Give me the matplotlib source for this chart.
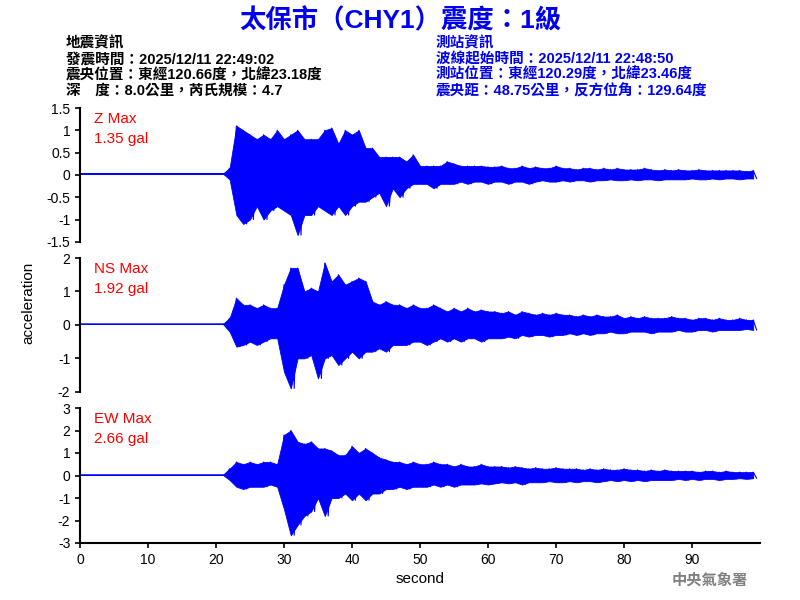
import matplotlib
matplotlib.use("Agg")
import matplotlib.pyplot as plt
import numpy as np

plt.rcParams['font.family'] = ['Liberation Sans', 'Noto Sans CJK TC', 'DejaVu Sans']

seconds = list(range(100))
pre = [0.03] * 22
z_max = pre + [0.15, 1.1, 1.0, 0.9, 0.8, 0.9, 0.8, 1.0, 0.8, 0.9, 1.0, 0.8, 0.8, 0.8, 1.0, 1.05, 0.7, 1.0, 0.9, 1.0,
               0.6, 0.6, 0.4, 0.4, 0.4, 0.4, 0.3, 0.45, 0.2, 0.2, 0.2, 0.2, 0.3, 0.25, 0.2, 0.2, 0.2, 0.2, 0.18, 0.18,
               0.2, 0.15, 0.15, 0.2, 0.15, 0.18, 0.15, 0.15, 0.2, 0.15, 0.15, 0.12, 0.15, 0.15, 0.12, 0.15, 0.12, 0.15, 0.12, 0.12,
               0.12, 0.15, 0.12, 0.1, 0.12, 0.1, 0.12, 0.1, 0.1, 0.12, 0.1, 0.1, 0.1, 0.1, 0.1, 0.1, 0.08, 0.1]
z_min = pre + [-0.1, -0.9, -1.1, -1.0, -0.7, -1.0, -0.8, -0.7, -0.8, -0.9, -1.35, -0.9, -0.9, -0.7, -0.8, -0.9, -0.7, -0.9, -0.7, -0.6,
               -0.6, -0.5, -0.4, -0.7, -0.3, -0.5, -0.3, -0.2, -0.2, -0.2, -0.3, -0.2, -0.2, -0.2, -0.15, -0.2, -0.15, -0.15, -0.2, -0.15,
               -0.15, -0.2, -0.15, -0.15, -0.2, -0.15, -0.12, -0.15, -0.15, -0.12, -0.15, -0.12, -0.12, -0.15, -0.12, -0.12, -0.1, -0.12, -0.12, -0.1,
               -0.12, -0.1, -0.1, -0.12, -0.1, -0.1, -0.1, -0.1, -0.08, -0.1, -0.1, -0.08, -0.1, -0.08, -0.08, -0.1, -0.08, -0.08]
ns_max = pre + [0.2, 0.8, 0.6, 0.6, 0.5, 0.6, 0.5, 0.5, 1.2, 1.7, 1.7, 1.0, 1.1, 1.0, 1.85, 1.3, 1.5, 1.2, 1.3, 1.4,
                1.3, 0.7, 0.6, 0.7, 0.6, 0.6, 0.5, 0.6, 0.5, 0.5, 0.6, 0.5, 0.4, 0.5, 0.4, 0.5, 0.4, 0.45, 0.4, 0.4,
                0.35, 0.4, 0.3, 0.4, 0.35, 0.3, 0.35, 0.3, 0.35, 0.3, 0.3, 0.25, 0.3, 0.25, 0.3, 0.25, 0.25, 0.3, 0.2, 0.25,
                0.2, 0.25, 0.2, 0.2, 0.2, 0.25, 0.2, 0.2, 0.15, 0.2, 0.2, 0.15, 0.2, 0.15, 0.15, 0.2, 0.15, 0.15]
ns_min = pre + [-0.2, -0.65, -0.6, -0.5, -0.6, -0.5, -0.4, -0.4, -1.4, -1.9, -1.0, -1.0, -0.9, -1.6, -1.0, -0.9, -1.2, -1.0, -0.8, -1.0,
                -0.8, -0.8, -0.7, -0.8, -0.6, -0.6, -0.6, -0.5, -0.5, -0.6, -0.5, -0.4, -0.5, -0.4, -0.5, -0.4, -0.4, -0.5, -0.4, -0.4,
                -0.4, -0.35, -0.4, -0.3, -0.35, -0.3, -0.3, -0.35, -0.3, -0.3, -0.25, -0.3, -0.25, -0.3, -0.25, -0.25, -0.2, -0.25, -0.25, -0.2,
                -0.2, -0.2, -0.25, -0.2, -0.2, -0.2, -0.15, -0.2, -0.2, -0.15, -0.15, -0.2, -0.15, -0.15, -0.15, -0.15, -0.12, -0.15]
ew_max = pre + [0.3, 0.6, 0.5, 0.6, 0.5, 0.6, 0.6, 0.5, 1.8, 2.0, 1.5, 1.4, 1.5, 1.2, 1.2, 1.1, 0.9, 0.9, 1.3, 1.0,
                1.2, 1.0, 0.8, 0.7, 0.6, 0.6, 0.5, 0.6, 0.5, 0.5, 0.6, 0.5, 0.5, 0.4, 0.5, 0.4, 0.4, 0.5, 0.4, 0.4,
                0.4, 0.35, 0.4, 0.35, 0.3, 0.35, 0.3, 0.3, 0.35, 0.3, 0.3, 0.3, 0.25, 0.3, 0.25, 0.3, 0.25, 0.25, 0.3, 0.25,
                0.25, 0.2, 0.25, 0.2, 0.25, 0.2, 0.2, 0.2, 0.2, 0.15, 0.2, 0.2, 0.15, 0.2, 0.15, 0.15, 0.15, 0.15]
ew_min = pre + [-0.2, -0.5, -0.6, -0.5, -0.5, -0.5, -0.4, -0.5, -1.5, -2.66, -2.2, -1.8, -1.6, -1.0, -1.8, -1.0, -1.0, -0.8, -1.1, -0.8,
                -1.1, -0.8, -0.8, -0.6, -0.6, -0.5, -0.6, -0.5, -0.5, -0.5, -0.4, -0.5, -0.4, -0.5, -0.4, -0.4, -0.4, -0.35, -0.4, -0.35,
                -0.3, -0.35, -0.3, -0.4, -0.3, -0.3, -0.3, -0.25, -0.3, -0.3, -0.25, -0.3, -0.25, -0.25, -0.3, -0.25, -0.2, -0.25, -0.2, -0.25,
                -0.2, -0.25, -0.2, -0.2, -0.2, -0.2, -0.15, -0.2, -0.15, -0.2, -0.15, -0.15, -0.2, -0.15, -0.15, -0.12, -0.15, -0.12]

components = ["Z", "NS", "EW"]
peaks = ["1.35", "1.92", "2.66"]
limits = [1.5, 2, 3]
tick_sets = [[-1.5, -1, -0.5, 0, 0.5, 1, 1.5], [-2, -1, 0, 1, 2], [-3, -2, -1, 0, 1, 2, 3]]
series = [(z_max, z_min), (ns_max, ns_min), (ew_max, ew_min)]
x_ticks = list(range(0, 100, 10))

fig = plt.figure(figsize=(8, 6), dpi=100)
boxes = [(0.82, 0.597), (0.57, 0.347), (0.32, 0.095)]
for i, (top, bot) in enumerate(boxes):
    ax = fig.add_axes([0.1, bot, 0.85, top - bot])
    mx, mn = series[i]
    ax.fill_between(seconds, mn, mx, color='blue', lw=0.6, edgecolor='blue')
    t = []
    v = []
    for s, a, b in zip(seconds, mx, mn):
        t += [s, s + 0.5]
        v += [a, b]
    ax.plot(t, v, color='blue', lw=0.8)
    ax.set_xlim(0, 100)
    ax.set_ylim(-limits[i], limits[i])
    ax.set_yticks(tick_sets[i])
    ax.set_yticklabels([f"{y:g}" for y in tick_sets[i]])
    for s in ['top', 'right']:
        ax.spines[s].set_visible(False)
    ax.spines['left'].set_linewidth(1.5)
    ax.tick_params(axis='y', labelsize=10, width=1.2)
    ax.text(0.02, 0.97, f"{components[i]} Max\n{peaks[i]} gal", transform=ax.transAxes,
            color='red', fontsize=11, va='top', linespacing=1.5)
    if i < 2:
        ax.spines['bottom'].set_visible(False)
        ax.set_xticks([])
    else:
        ax.spines['bottom'].set_linewidth(1.5)
        ax.set_xticks(x_ticks)
        ax.tick_params(axis='x', labelsize=10, width=1.2)
        ax.set_xlabel("second", fontsize=11)

fig.text(0.035, 0.495, "acceleration", rotation=90, va='center', ha='center', fontsize=11)
fig.text(0.5, 0.965, "太保市（CHY1）震度：1級", color='#0000ee', fontsize=19, fontweight='bold',
         ha='center', va='center')
left_info = ["地震資訊", "發震時間：2025/12/11 22:49:02", "震央位置：東經120.66度，北緯23.18度",
             "深　度：8.0公里，芮氏規模：4.7"]
right_info = ["測站資訊", "波線起始時間：2025/12/11 22:48:50", "測站位置：東經120.29度，北緯23.46度",
              "震央距：48.75公里，反方位角：129.64度"]
for k, (l, r) in enumerate(zip(left_info, right_info)):
    y = 0.928 - k * 0.0265
    fig.text(0.082, y, l, fontsize=10.5, va='center', color='black', fontweight='bold')
    fig.text(0.545, y, r, fontsize=10.5, va='center', color='#0000ee', fontweight='bold')
fig.text(0.935, 0.032, "中央氣象署", color='gray', fontsize=11, ha='right', va='center', fontweight='bold')
fig.savefig("out.png", dpi=100)
